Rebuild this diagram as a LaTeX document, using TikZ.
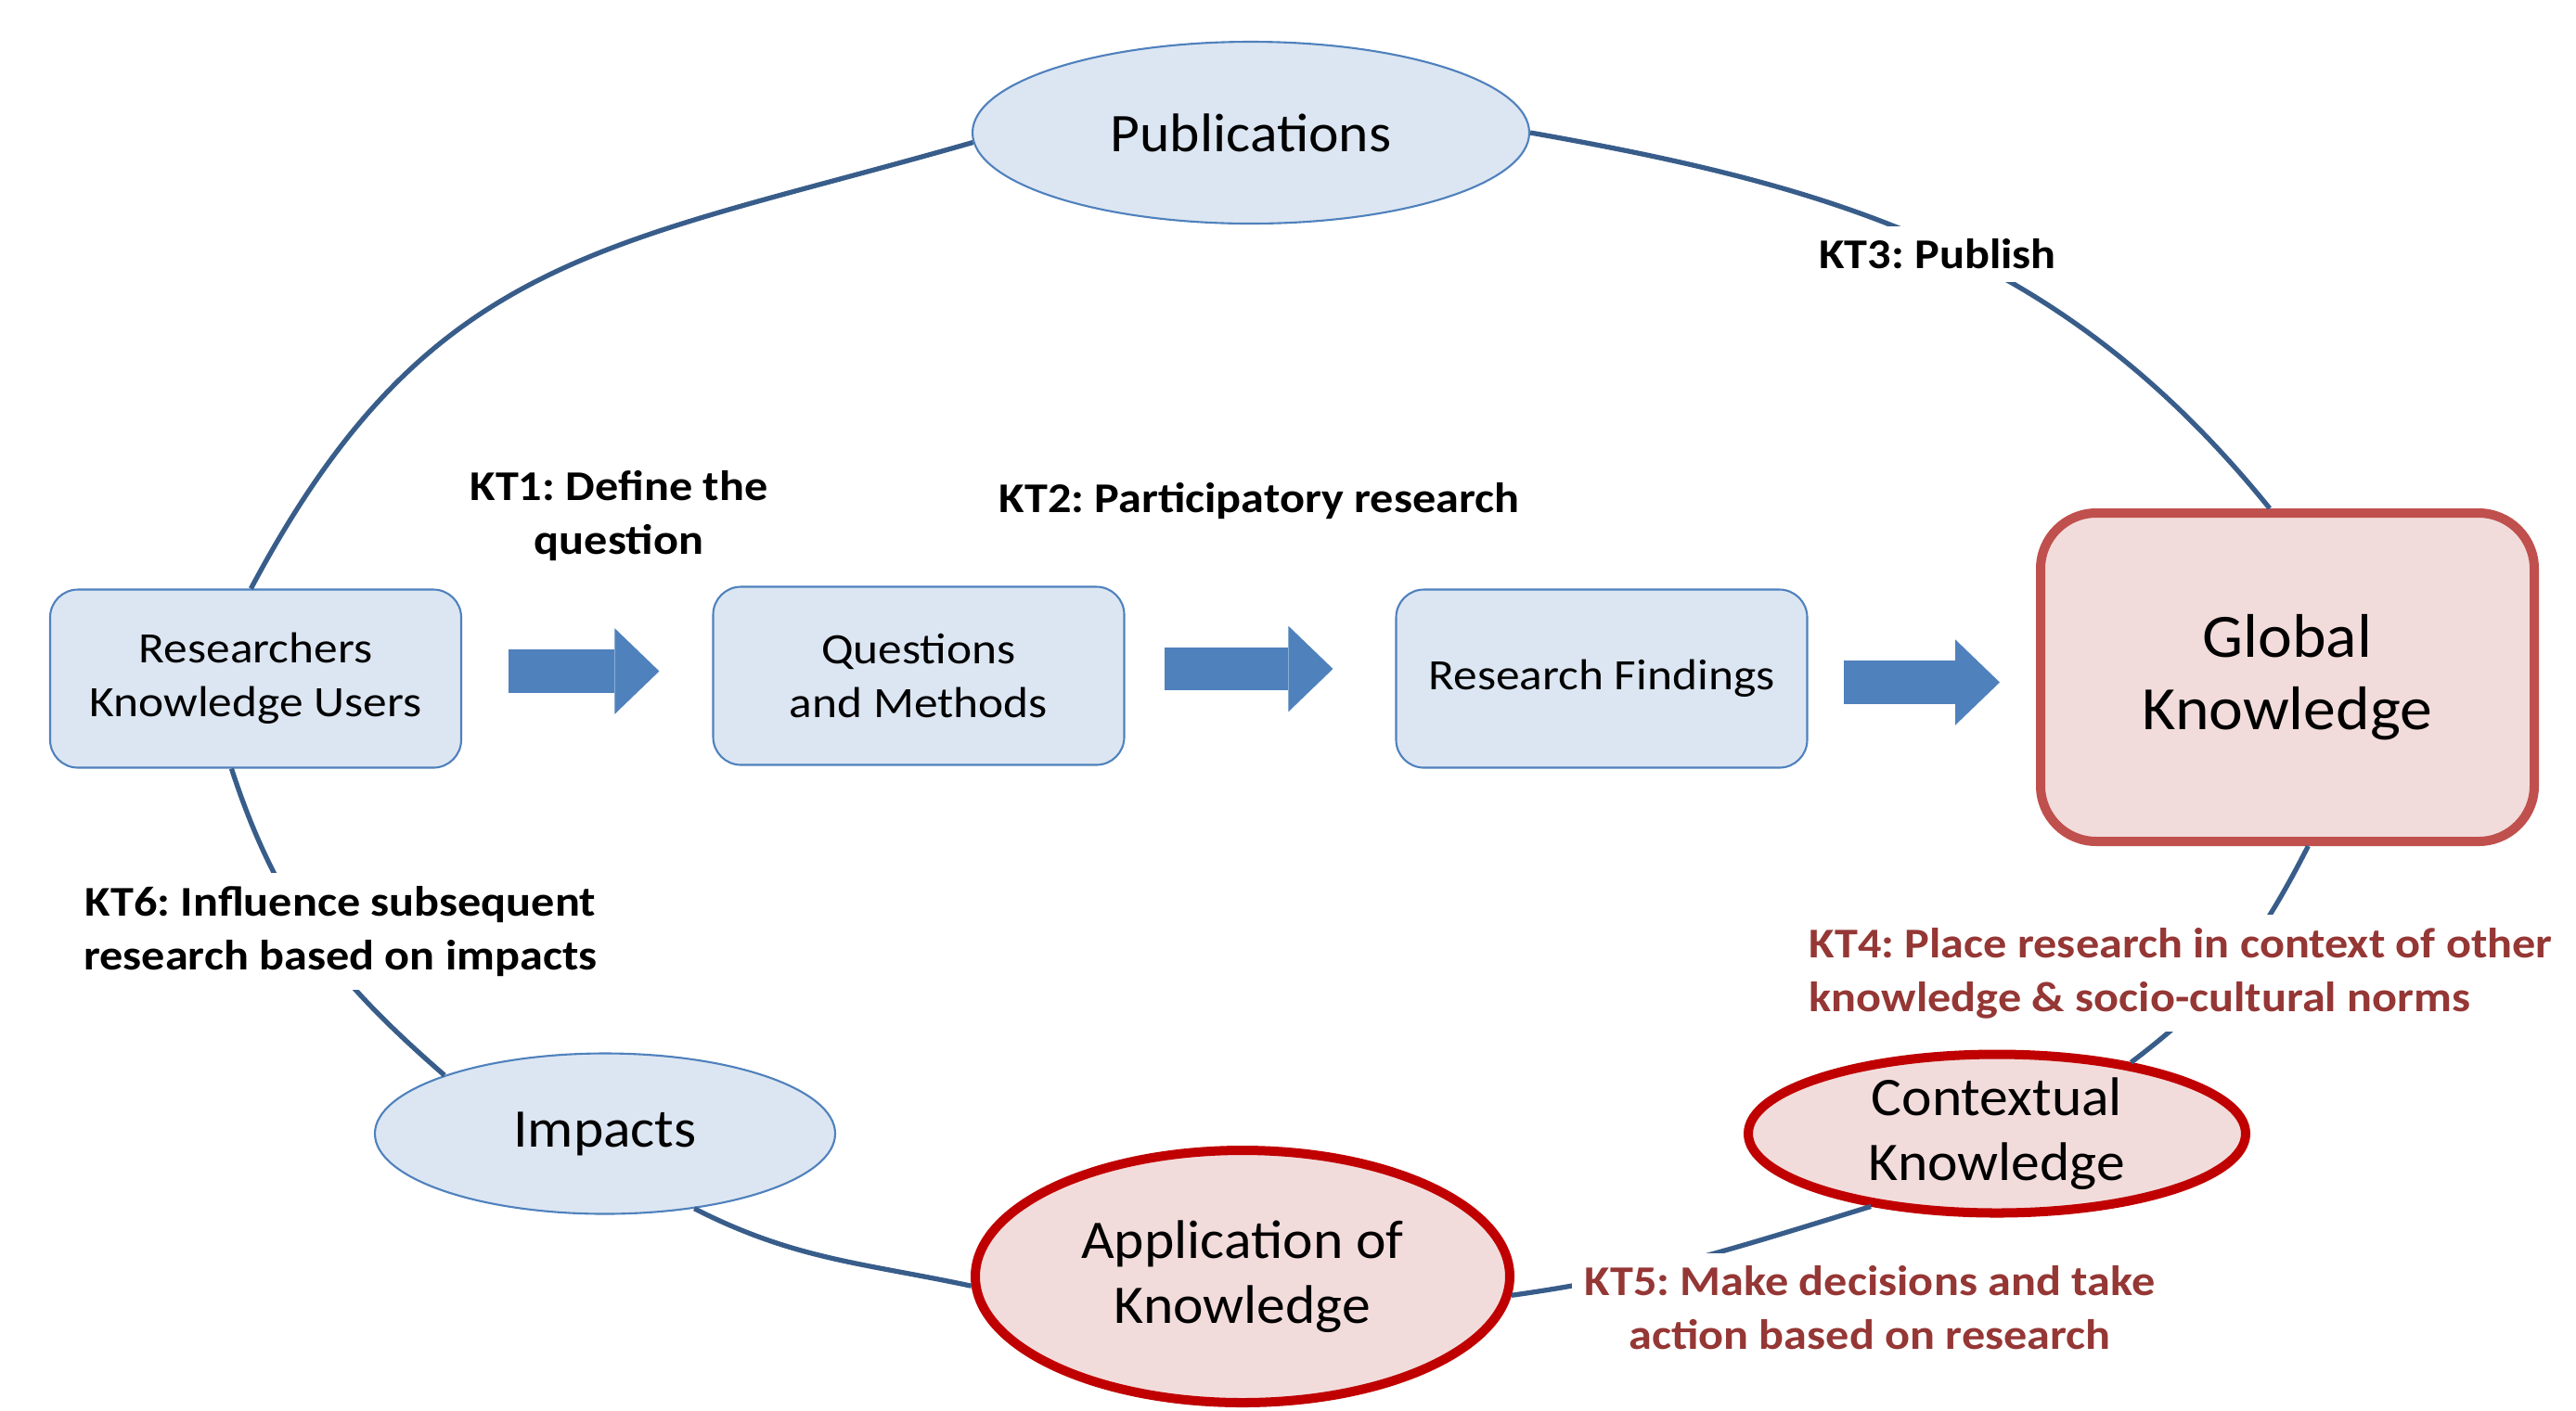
\documentclass[tikz,border=0pt]{standalone}
\usepackage{fontspec}
\setmainfont{Carlito}[FakeStretch=1.1]
\newfontfamily\largefont{Carlito}[FakeStretch=1.05]
\frenchspacing
\usetikzlibrary{shapes.geometric,arrows.meta}

\definecolor{boxfill}{RGB}{220,230,242}
\definecolor{boxline}{RGB}{79,129,189}
\definecolor{cycleblue}{RGB}{56,93,138}
\definecolor{arrowblue}{RGB}{79,129,189}
\definecolor{pinkfill}{RGB}{242,220,219}
\definecolor{globalred}{RGB}{192,80,77}
\definecolor{darkred}{RGB}{192,0,0}
\definecolor{kttext}{RGB}{149,55,53}

\tikzset{
  stage/.style={draw=boxline, line width=0.6pt, fill=boxfill, rounded corners=0.3cm,
    minimum width=4.43cm, minimum height=1.92cm, inner sep=0pt, align=center,
    font=\fontsize{13.3}{16.5}\selectfont},
  outlet/.style={ellipse, draw=boxline, line width=0.6pt, fill=boxfill, inner sep=0pt,
    font=\largefont\fontsize{16.7}{20}\selectfont},
  usage/.style={ellipse, draw=darkred, line width=2.85pt, fill=pinkfill, inner sep=0pt,
    align=center, font=\largefont\fontsize{16.7}{19.8}\selectfont},
  cycleline/.style={draw=cycleblue, line width=1.5pt},
  blockarrow/.style={draw=arrowblue, line width=0.465cm,
    -{Triangle[length=0.48cm,width=0.925cm,line width=0pt]}},
  ktlabel/.style={fill=white, inner sep=0.14cm, align=center,
    font=\fontsize{13}{16.5}\selectfont\bfseries},
}

\begin{document}
\begin{tikzpicture}
  \useasboundingbox (0,0) rectangle (27.76,-15.2);

  % research pipeline
  \node[stage] (res) at (2.755,-7.315) {Researchers\\Knowledge Users};
  \node[stage] (qm) at (9.90,-7.285) {Questions\\and Methods};
  \node[stage] (rf) at (17.26,-7.315) {Research Findings};
  \node[draw=globalred, line width=2.85pt, fill=pinkfill, rounded corners=0.6cm,
    minimum width=5.32cm, minimum height=3.54cm, align=center,
    font=\largefont\fontsize{18.9}{22.2}\selectfont] (gk) at (24.65,-7.3) {Global\\Knowledge};

  % ellipses round the cycle
  \node[outlet, minimum width=6.0cm, minimum height=1.96cm] (pub) at (13.48,-1.43) {Publications};
  \node[outlet, minimum width=4.96cm, minimum height=1.73cm] (imp) at (6.52,-12.22) {Impacts};
  \node[usage, minimum width=5.36cm, minimum height=1.71cm] (ctx) at (21.52,-12.22) {Contextual\\Knowledge};
  \node[usage, minimum width=5.76cm, minimum height=2.72cm] (app) at (13.39,-13.76) {Application of\\Knowledge};

  % the cycle
  \draw[cycleline] (res.93) to[out=62,in=196,looseness=1.15] (pub.182);
  \draw[cycleline] (pub.east) to[out=-10,in=129] (gk.96);
  \draw[cycleline] (gk.-83) to[out=-117,in=37] (ctx.28);
  \draw[cycleline] (ctx.210) to[out=-163,in=8] (app.356);
  \draw[cycleline] (app.182) to[out=168,in=-27] (imp.320);
  \draw[cycleline] (imp.160) to[out=139,in=-72] (res.255);

  % block arrows between the stages
  \draw[blockarrow, shorten <=0.5cm, shorten >=0.57cm]
    ([yshift=0.08cm]res.east) -- ([yshift=0.08cm]res.east -| qm.west);
  \draw[blockarrow, shorten <=0.42cm, shorten >=0.67cm]
    ([yshift=0.075cm]qm.east) -- ([yshift=0.075cm]qm.east -| rf.west);
  \draw[blockarrow, shorten <=0.38cm, shorten >=0.39cm]
    ([yshift=-0.04cm]rf.east) -- ([yshift=-0.04cm]rf.east -| gk.west);

  % KT labels
  \node[ktlabel] (kt1) at (6.67,-5.56) {KT1: Define the\\question};
  \node[ktlabel] (kt2) at (13.57,-5.40) {KT2: Participatory research};
  \node[ktlabel] (kt3) at (20.88,-2.74) {KT3: Publish};
  \node[ktlabel, text=kttext, align=left, anchor=west] (kt4) at (19.35,-10.49)
    {KT4: Place research in context of other\\knowledge \& socio-cultural norms};
  \node[ktlabel, text=kttext] (kt5) at (20.15,-14.10) {KT5: Make decisions and take\\action based on research};
  \node[ktlabel] (kt6) at (3.67,-10.04) {KT6: Influence subsequent\\research based on impacts};
\end{tikzpicture}
\end{document}
